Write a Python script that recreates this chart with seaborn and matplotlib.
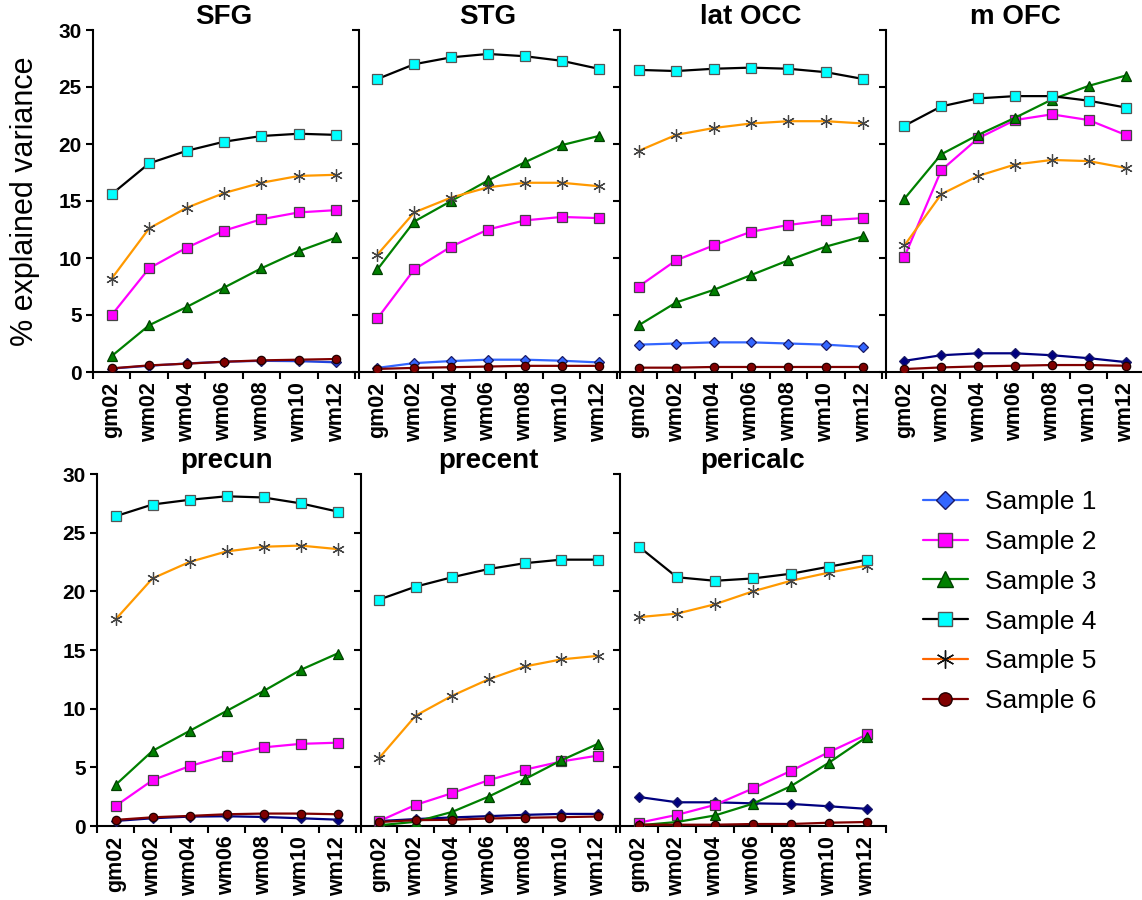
import numpy as np
import pandas as pd
import matplotlib
matplotlib.use("Agg")
import matplotlib.pyplot as plt
from matplotlib.lines import Line2D
import seaborn as sns

# ---------------- data ----------------
categories = ["gm02", "wm02", "wm04", "wm06", "wm08", "wm10", "wm12"]
samples = ["Sample 1", "Sample 2", "Sample 3", "Sample 4", "Sample 5", "Sample 6"]
regions = ["SFG", "STG", "lat OCC", "m OFC", "precun", "precent", "pericalc"]

# rows: Sample 1 .. Sample 6, columns: categories
sfg = [
    [0.30, 0.55, 0.75, 0.90, 0.98, 0.95, 0.85],
    [5.0, 9.1, 10.9, 12.4, 13.4, 14.0, 14.2],
    [1.4, 4.1, 5.7, 7.4, 9.1, 10.6, 11.8],
    [15.6, 18.3, 19.4, 20.2, 20.7, 20.9, 20.8],
    [8.2, 12.6, 14.4, 15.7, 16.6, 17.2, 17.3],
    [0.32, 0.58, 0.73, 0.90, 1.02, 1.08, 1.14],
]
stg = [
    [0.36, 0.78, 0.96, 1.08, 1.08, 0.99, 0.84],
    [4.7, 9.0, 11.0, 12.5, 13.3, 13.6, 13.5],
    [9.0, 13.2, 15.0, 16.8, 18.4, 19.9, 20.7],
    [25.7, 27.0, 27.6, 27.9, 27.7, 27.3, 26.6],
    [10.3, 14.0, 15.3, 16.2, 16.6, 16.6, 16.3],
    [0.27, 0.36, 0.42, 0.48, 0.54, 0.54, 0.54],
]
lat_occ = [
    [2.4, 2.5, 2.6, 2.6, 2.5, 2.4, 2.2],
    [7.5, 9.8, 11.1, 12.3, 12.9, 13.3, 13.5],
    [4.1, 6.1, 7.2, 8.5, 9.8, 11.0, 11.9],
    [26.5, 26.4, 26.6, 26.7, 26.6, 26.3, 25.7],
    [19.4, 20.8, 21.4, 21.8, 22.0, 22.0, 21.8],
    [0.38, 0.38, 0.44, 0.44, 0.44, 0.44, 0.44],
]
m_ofc = [
    [0.98, 1.47, 1.64, 1.64, 1.47, 1.21, 0.87],
    [10.1, 17.7, 20.5, 22.1, 22.6, 22.1, 20.8],
    [15.2, 19.1, 20.8, 22.3, 23.9, 25.1, 26.0],
    [21.6, 23.3, 24.0, 24.2, 24.2, 23.8, 23.2],
    [11.1, 15.6, 17.2, 18.2, 18.6, 18.5, 17.9],
    [0.26, 0.40, 0.49, 0.55, 0.61, 0.61, 0.55],
]
precun = [
    [0.43, 0.66, 0.80, 0.83, 0.77, 0.66, 0.54],
    [1.7, 3.9, 5.1, 6.0, 6.7, 7.0, 7.1],
    [3.5, 6.4, 8.1, 9.8, 11.5, 13.3, 14.7],
    [26.4, 27.4, 27.8, 28.1, 28.0, 27.5, 26.8],
    [17.6, 21.1, 22.5, 23.4, 23.8, 23.9, 23.6],
    [0.52, 0.74, 0.86, 1.0, 1.06, 1.06, 1.0],
]
precent = [
    [0.42, 0.59, 0.73, 0.84, 0.95, 1.03, 1.03],
    [0.42, 1.8, 2.8, 3.9, 4.8, 5.5, 6.0],
    [0.06, 0.36, 1.2, 2.5, 4.0, 5.6, 7.0],
    [19.3, 20.4, 21.2, 21.9, 22.4, 22.7, 22.7],
    [5.8, 9.4, 11.1, 12.5, 13.6, 14.2, 14.5],
    [0.34, 0.50, 0.53, 0.64, 0.70, 0.75, 0.81],
]
pericalc = [
    [2.47, 2.02, 2.02, 1.93, 1.88, 1.68, 1.46],
    [0.28, 0.95, 1.8, 3.2, 4.7, 6.3, 7.8],
    [0.06, 0.34, 0.9, 1.9, 3.4, 5.4, 7.6],
    [23.8, 21.2, 20.9, 21.1, 21.5, 22.1, 22.7],
    [17.8, 18.1, 18.9, 20.0, 20.9, 21.6, 22.2],
    [0.11, 0.11, 0.11, 0.17, 0.17, 0.28, 0.34],
]
panel_data = [sfg, stg, lat_occ, m_ofc, precun, precent, pericalc]

# ---------------- style ----------------
sns.set_style("ticks")
plt.rcParams["font.family"] = ["Liberation Sans", "DejaVu Sans"]
plt.rcParams["text.color"] = "black"
plt.rcParams["xtick.color"] = "black"
plt.rcParams["ytick.color"] = "black"
plt.rcParams["xtick.labelcolor"] = "black"
plt.rcParams["ytick.labelcolor"] = "black"
plt.rcParams["axes.labelcolor"] = "black"

line_colors = ["#3366FF", "#FF00FF", "#008000", "#000000", "#FF9900", "#800000"]
face_colors = ["#3366FF", "#FF00FF", "#008000", "#00FFFF", "#444444", "#800000"]
edge_colors = ["#1a1a66", "#444444", "#004000", "#555555", "#444444", "#200000"]
markers = ["D", "s", "^", "s", (6, 2, 0), "o"]
msizes = [5.5, 6.5, 7, 6.5, 9, 6]
# Sample 1 drawn navy in some panels
s1_color = {"SFG": "#2244DD", "STG": "#3366FF", "lat OCC": "#3366FF",
            "m OFC": "#000080", "precun": "#000080", "precent": "#000080",
            "pericalc": "#000080"}

W, H = 1142, 900
fig = plt.figure(figsize=(W / 100, H / 100), dpi=100)

# panel rectangles in pixels: x0, x1, ytop, ybot
rects = [
    (93, 355, 30, 372), (359, 617, 30, 372), (620, 882, 30, 372), (886, 1144, 30, 372),
    (97, 356, 474, 826), (361, 616, 474, 826), (620, 886, 474, 826),
]

axes = []
for i, (reg, data, (x0, x1, yt, yb)) in enumerate(zip(regions, panel_data, rects)):
    ax = fig.add_axes([x0 / W, 1 - yb / H, (x1 - x0) / W, (yb - yt) / H])
    axes.append(ax)
    rows = []
    for s, vals in zip(samples, data):
        for c, v in zip(categories, vals):
            rows.append({"sample": s, "cat": c, "value": v})
    df = pd.DataFrame(rows)
    for j, s in enumerate(samples):
        sub = df[df["sample"] == s]
        lc = line_colors[j]
        fc = face_colors[j]
        ec = edge_colors[j]
        if j == 0:
            lc = fc = s1_color[reg]
        sns.lineplot(data=sub, x="cat", y="value", ax=ax, sort=False,
                     errorbar=None, color=lc, linewidth=1.6,
                     marker=markers[j], markersize=msizes[j],
                     markerfacecolor=fc, markeredgecolor=ec,
                     markeredgewidth=0.9, legend=False, zorder=3 + (j == 3))
    ax.set_xlim(-0.5, 6.5)
    ax.set_ylim(0, 30)
    ax.set_yticks(np.arange(0, 31, 5))
    ax.set_xticks(np.arange(len(categories)))
    ax.set_xticklabels(categories, rotation=90, fontsize=15.5, fontweight="bold")
    ax.set_xticks(np.arange(-0.5, len(categories), 1), minor=True)
    ax.tick_params(axis="x", which="major", length=0, pad=7)
    ax.tick_params(axis="x", which="minor", length=5, width=1.5, direction="out")
    ax.tick_params(axis="y", length=5, width=1.5, direction="out", pad=3)
    if i in (0, 4):
        ax.set_yticklabels([str(v) for v in range(0, 31, 5)], fontsize=15,
                           fontweight="bold")
    else:
        ax.set_yticklabels([])
    ax.set_xlabel("")
    ax.set_ylabel("")
    for sp in ("top", "right"):
        ax.spines[sp].set_visible(False)
    for sp in ("left", "bottom"):
        ax.spines[sp].set_linewidth(1.5)
        ax.spines[sp].set_color("black")
    ax.set_title(reg, fontsize=20, fontweight="bold", pad=1 if i < 4 else 4,
                 color="black")

fig.text(25 / W, 1 - 201 / H, "% explained variance", rotation=90,
         ha="center", va="center", fontsize=22, color="black")

handles = []
for j, s in enumerate(samples):
    handles.append(Line2D([], [], color=line_colors[j] if j != 4 else "#FF6600",
                          linewidth=1.6, marker=markers[j],
                          markersize=msizes[j] * 1.6 if j != 4 else 13,
                          markerfacecolor=face_colors[j] if j != 4 else "#111111",
                          markeredgecolor=edge_colors[j] if j != 4 else "#111111",
                          markeredgewidth=1.0))
leg = fig.legend(handles, samples, loc="upper left",
                 bbox_to_anchor=(923 / W, 1 - 490 / H), frameon=False,
                 fontsize=19, handlelength=1.7, handletextpad=0.64,
                 labelspacing=0.6, borderpad=0, borderaxespad=0)
for t in leg.get_texts():
    t.set_color("black")

fig.savefig("out.png", dpi=100)
